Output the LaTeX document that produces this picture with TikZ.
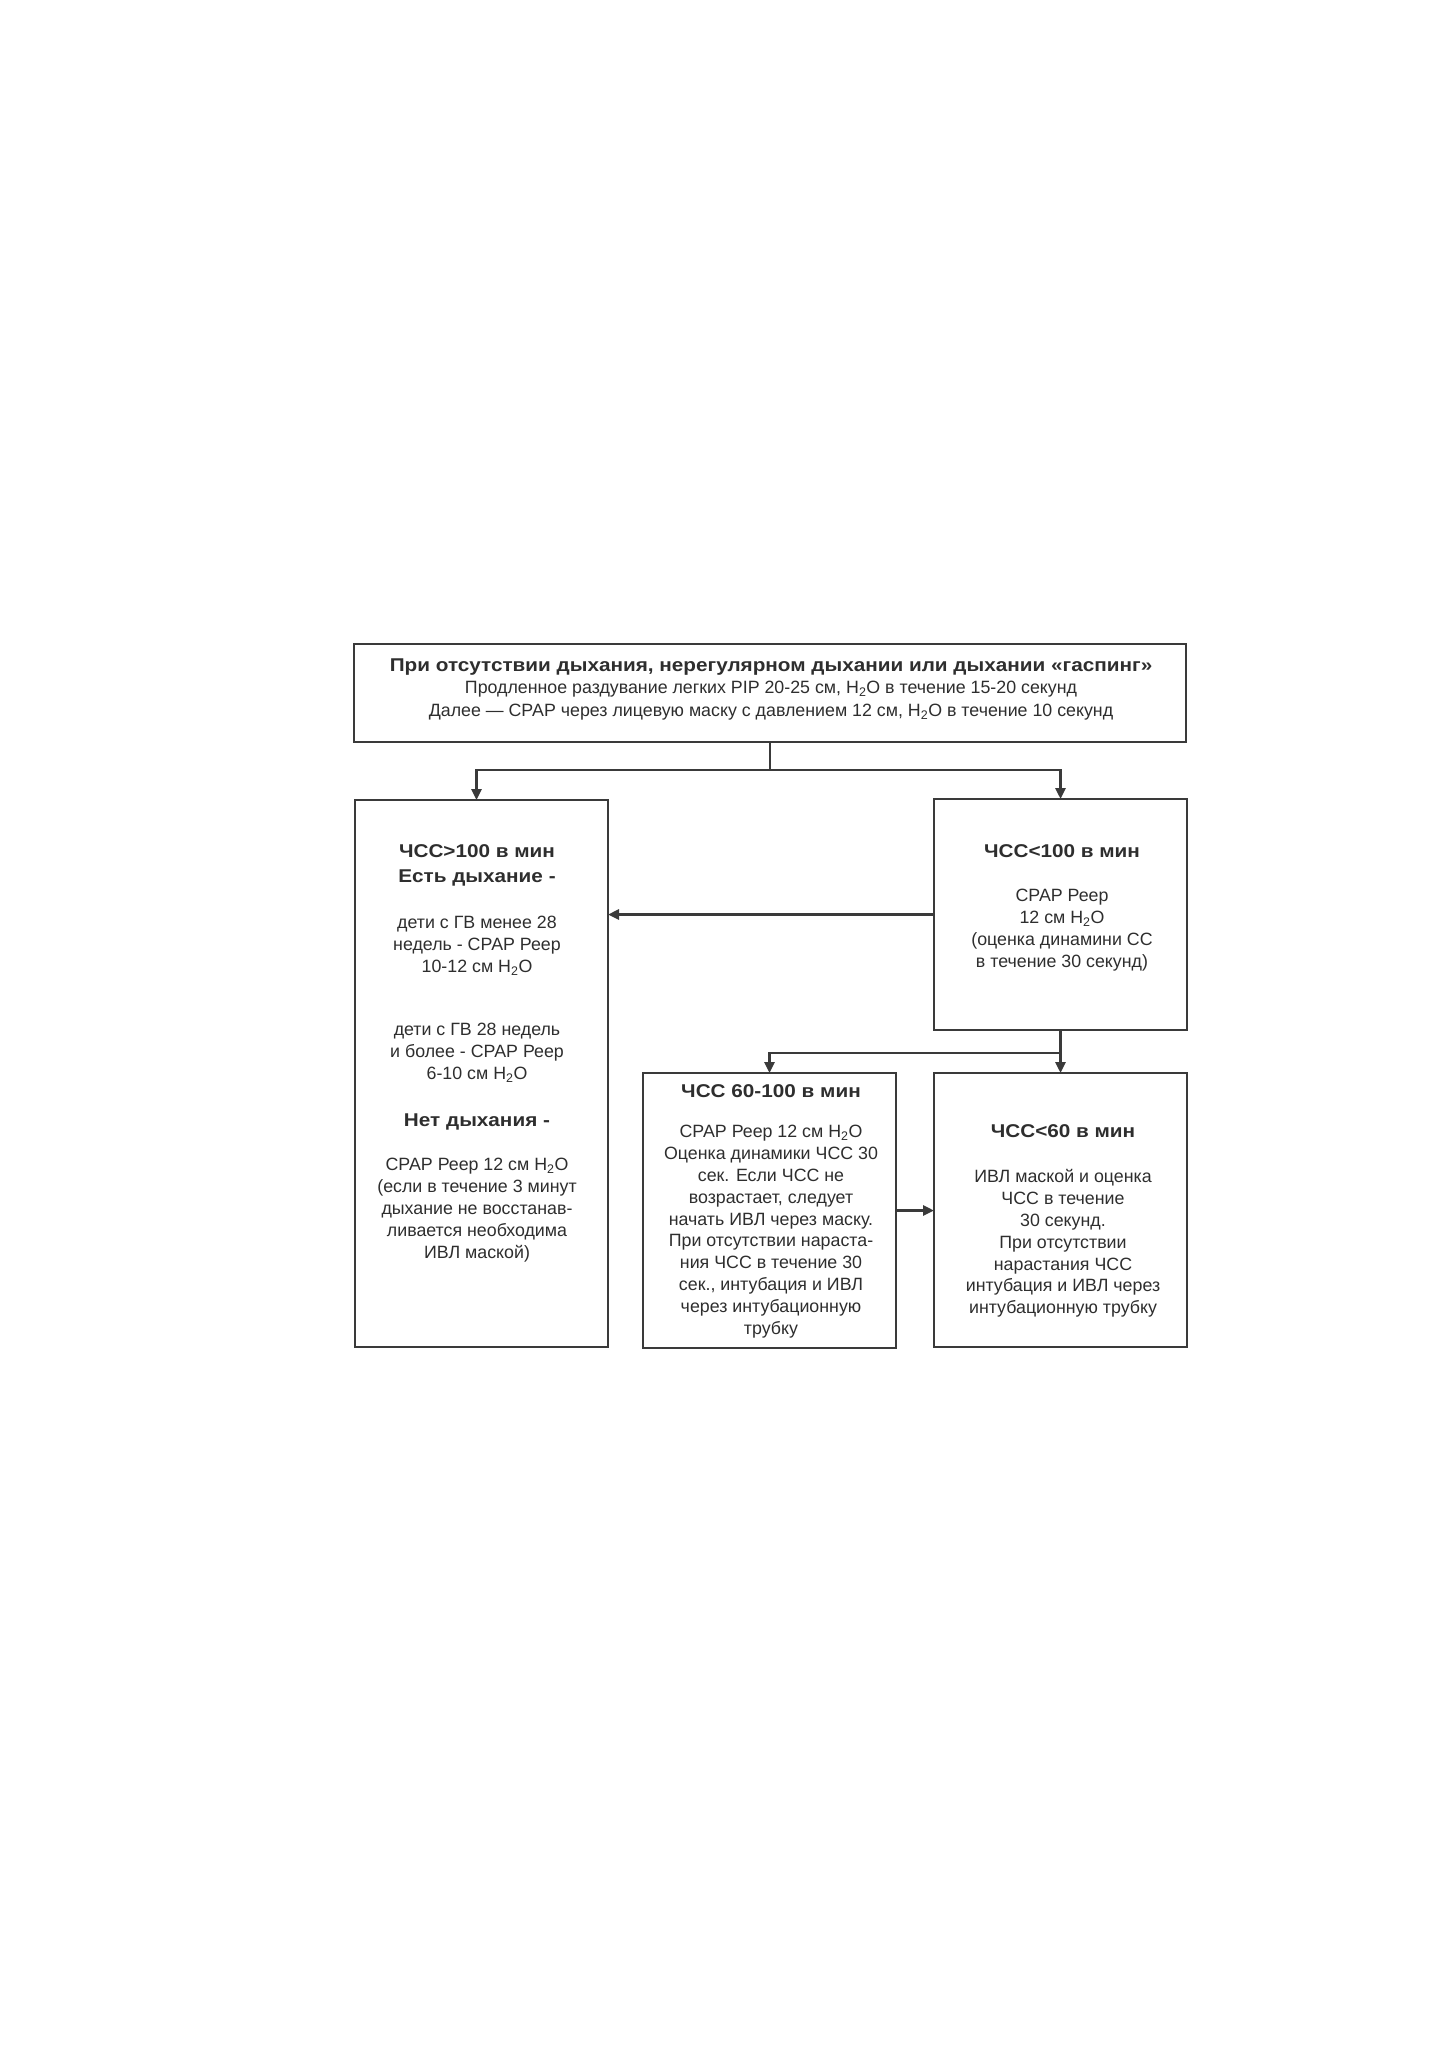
\documentclass[tikz,border=0pt]{standalone}
\usepackage{fontspec}
\setmainfont{Liberation Sans}
\newfontfamily\hdfont[FakeStretch=1.12]{Liberation Sans Bold}
\usetikzlibrary{arrows.meta}
\definecolor{lc}{HTML}{3A3A3A}
\definecolor{tc}{HTML}{2E2E2E}
\newcommand{\Hwater}{H\textsubscript{2}O}
\begin{document}
\begin{tikzpicture}[x=1pt,y=-1pt,
  boxst/.style={draw=lc, line width=2.8pt, inner sep=0pt, outer sep=0pt, anchor=north west, minimum width=253pt},
  txt/.style={align=center, inner sep=0pt, anchor=north, text=tc, font=\fontsize{17.8}{21.8}\selectfont},
  toptxt/.style={align=center, inner sep=0pt, anchor=north, text=tc, font=\fontsize{17.8}{22.8}\selectfont},
  hd/.style={txt, font=\fontsize{18.5}{24.5}\hdfont},
  conn/.style={draw=lc, line width=2.6pt},
  arr/.style={conn, -{Triangle[length=11pt,width=10pt]}}]
\useasboundingbox (0,0) rectangle (1449,2050);
\fill[white] (0,0) rectangle (1449,2050);
% boxes
\node[boxst, minimum width=832pt, minimum height=98pt] (top) at (354,644) {};
\node[boxst, minimum height=547pt] (lbox) at (355,800) {};
\node[boxst, minimum height=231pt] (rbox) at (934,799) {};
\node[boxst, minimum height=275pt] (mbox) at (643,1073) {};
\node[boxst, minimum height=274pt] (rbbox) at (934,1073) {};
% top text
\node[toptxt] (ttop) at (771,655) {{\fontsize{18.5}{22.8}\hdfont\strut При отсутствии дыхания, нерегулярном дыхании или дыхании «гаспинг»}\\
Продленное раздувание легких PIP 20-25 см, \Hwater{} в течение 15-20 секунд\\
Далее — СРАР через лицевую маску с давлением 12 см, \Hwater{} в течение 10 секунд};
% left box text
\node[hd] (l1) at (477,840.5) {\strut ЧСС>100 в мин\\ Есть дыхание -};
\node[txt] (l2) at (477,913.5) {\strut дети с ГВ менее 28\\ недель - СРАР Реер\\ 10-12 см \Hwater};
\node[txt] (l3) at (477,1020.5) {\strut дети с ГВ 28 недель\\ и более - СРАР Реер\\ 6-10 см \Hwater};
\node[hd] (l4) at (477,1109.5) {\strut Нет дыхания -};
\node[txt] (l5) at (477,1155.5) {\strut СРАР Реер 12 см \Hwater\\ (если в течение 3 минут\\ дыхание не восстанав-\\ ливается необходима\\ ИВЛ маской)};
% right box text
\node[hd] (r1) at (1062,840.5) {\strut ЧСС<100 в мин};
\node[txt] (r2) at (1062,886.5) {\strut СРАР Реер\\ 12 см \Hwater\\ (оценка динамини СС\\ в течение 30 секунд)};
% middle box text
\node[hd] (m1) at (771,1080.5) {\strut ЧСС 60-100 в мин};
\node[txt] (m2) at (771,1122.5) {\strut СРАР Реер 12 см \Hwater\\ Оценка динамики ЧСС 30\\ сек. Если ЧСС не\\ возрастает, следует\\ начать ИВЛ через маску.\\ При отсутствии нараста-\\ ния ЧСС в течение 30\\ сек., интубация и ИВЛ\\ через интубационную\\ трубку};
% right bottom box text
\node[hd] (b1) at (1063,1120.5) {\strut ЧСС<60 в мин};
\node[txt] (b2) at (1063,1167.5) {\strut ИВЛ маской и оценка\\ ЧСС в течение\\ 30 секунд.\\ При отсутствии\\ нарастания ЧСС\\ интубация и ИВЛ через\\ интубационную трубку};
% connectors
\draw[conn] (top.south) -- ++(0,28) coordinate (j1);
\draw[arr] (j1) -| ([xshift=-5pt]lbox.north);
\draw[arr] (j1) -| (rbox.north);
\draw[arr] (rbox.west) -- (rbox.west -| lbox.east);
\draw[conn] (rbox.south) -- ++(0,23) coordinate (j2);
\draw[arr] (j2) -- (j2 |- rbbox.north);
\draw[arr] (j2) -| (mbox.north);
\draw[arr] (mbox.east) -- (mbox.east -| rbbox.west);
\end{tikzpicture}
\end{document}
